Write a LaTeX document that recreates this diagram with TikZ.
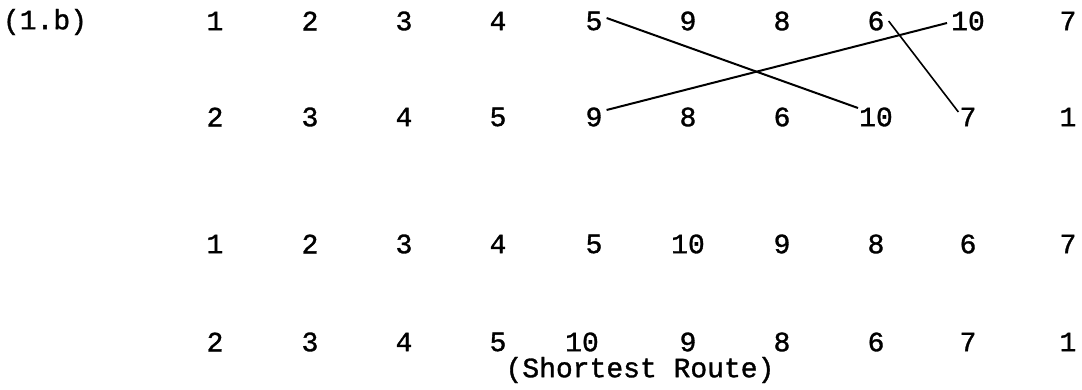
\documentclass[tikz,border=0pt]{standalone}
\usepackage{fontspec}
\newfontfamily\tw[BoldFont=Liberation Mono, BoldFeatures={FakeBold=1.2}]{Liberation Mono}
\begin{document}
\begin{tikzpicture}[x=1pt,y=-1pt,
  num/.style={font=\tw\bfseries\fontsize{28}{30}\selectfont, inner sep=1pt, anchor=center},
  link/.style={line width=2pt, black}]
\useasboundingbox (0,0) rectangle (1082,389);
\node[num] (lbl) at (45,22) {(1.b)};
% columns
\def\xA{215}\def\xB{310}\def\xC{404}\def\xD{498}\def\xE{594}
\def\xF{688}\def\xG{782}\def\xH{876}\def\xI{968}\def\xJ{1068}
% row 1
\node[num] (a1) at (\xA,21) {1};
\node[num] (a2) at (\xB,21) {2};
\node[num] (a3) at (\xC,21) {3};
\node[num] (a4) at (\xD,21) {4};
\node[num] (a5) at (\xE,21) {5};
\node[num] (a9) at (\xF,21) {9};
\node[num] (a8) at (\xG,21) {8};
\node[num] (a6) at (\xH,21) {6};
\node[num] (a10) at (\xI,21) {10};
\node[num] (a7) at (\xJ,21) {7};
% row 2
\node[num] (b2) at (\xA,117) {2};
\node[num] (b3) at (\xB,117) {3};
\node[num] (b4) at (\xC,117) {4};
\node[num] (b5) at (\xD,117) {5};
\node[num] (b9) at (\xE,117) {9};
\node[num] (b8) at (\xF,117) {8};
\node[num] (b6) at (\xG,117) {6};
\node[num] (b10) at (\xH,117) {10};
\node[num] (b7) at (\xI,117) {7};
\node[num] (b1) at (\xJ,117) {1};
% row 3
\node[num] (c1) at (\xA,244) {1};
\node[num] (c2) at (\xB,244) {2};
\node[num] (c3) at (\xC,244) {3};
\node[num] (c4) at (\xD,244) {4};
\node[num] (c5) at (\xE,244) {5};
\node[num] (c10) at (\xF,244) {10};
\node[num] (c9) at (\xG,244) {9};
\node[num] (c8) at (\xH,244) {8};
\node[num] (c6) at (\xI,244) {6};
\node[num] (c7) at (\xJ,244) {7};
% row 4
\node[num] (d2) at (\xA,342) {2};
\node[num] (d3) at (\xB,342) {3};
\node[num] (d4) at (\xC,342) {4};
\node[num] (d5) at (\xD,342) {5};
\node[num] (d10) at (582,342) {10};
\node[num] (d9) at (\xF,342) {9};
\node[num] (d8) at (\xG,342) {8};
\node[num] (d6) at (\xH,342) {6};
\node[num] (d7) at (\xI,342) {7};
\node[num] (d1) at (\xJ,342) {1};
\node[num] (note) at (640,370) {(Shortest Route)};
% crossing links
\draw[link] ([xshift=3pt,yshift=3pt]a5.east) -- ([yshift=9pt]b10.west);
\draw[link] ([xshift=3pt,yshift=7pt]b9.east) -- ([xshift=-3pt,yshift=-2pt]a10.west);
\draw[link, line width=1.6pt] ([xshift=3pt]a6.east) -- ([yshift=5pt]b7.west);
\end{tikzpicture}
\end{document}
